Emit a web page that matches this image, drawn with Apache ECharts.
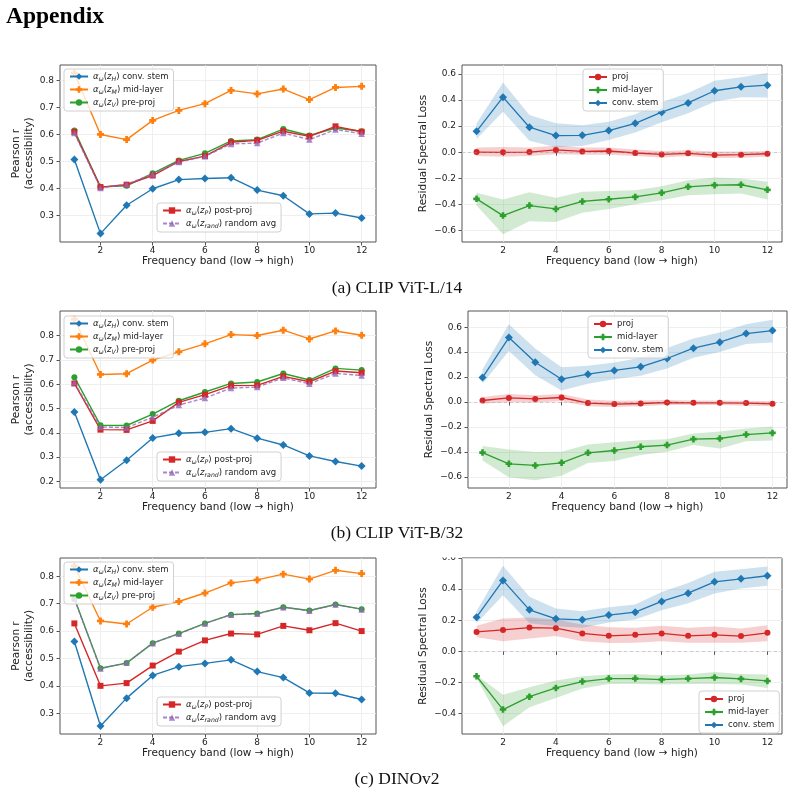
<!DOCTYPE html>
<html>
<head>
<meta charset="utf-8">
<script src="https://cdn.jsdelivr.net/npm/echarts@6/dist/echarts.min.js"></script>
<style>
  html, body { margin: 0; padding: 0; background: #fff; }
  #main { width: 794px; height: 795px; }
</style>
</head>
<body>
<div id="main"></div>
<script>
// frequency bands on the x axis
const bands = [1, 2, 3, 4, 5, 6, 7, 8, 9, 10, 11, 12];
const xTicks = [2, 4, 6, 8, 10, 12];

// (a) CLIP ViT-L/14 - accessibility (Pearson r)
const aStem = [0.507, 0.233, 0.338, 0.399, 0.433, 0.437, 0.440, 0.394, 0.373, 0.306, 0.309, 0.291];
const aMid  = [0.827, 0.600, 0.581, 0.652, 0.689, 0.714, 0.763, 0.750, 0.768, 0.729, 0.774, 0.778];
const aPre  = [0.615, 0.406, 0.410, 0.456, 0.504, 0.530, 0.576, 0.581, 0.620, 0.596, 0.624, 0.612];
const aPost = [0.609, 0.405, 0.414, 0.448, 0.500, 0.520, 0.571, 0.578, 0.612, 0.593, 0.630, 0.610];
const aRand = [0.605, 0.402, 0.416, 0.453, 0.498, 0.519, 0.565, 0.568, 0.605, 0.581, 0.618, 0.603];

// (a) residual spectral loss (mean, lower, upper)
const aResStem   = [0.160, 0.421, 0.191, 0.127, 0.129, 0.165, 0.221, 0.306, 0.377, 0.470, 0.500, 0.513];
const aResStemLo = [0.100, 0.310, 0.088, 0.037, 0.047, 0.093, 0.150, 0.229, 0.298, 0.385, 0.421, 0.418];
const aResStemHi = [0.220, 0.533, 0.285, 0.221, 0.206, 0.232, 0.290, 0.383, 0.452, 0.546, 0.574, 0.605];
const aResProj   = [0.001, -0.001, 0.001, 0.017, 0.006, 0.009, -0.006, -0.017, -0.009, -0.022, -0.019, -0.012];
const aResProjLo = [-0.030, -0.035, -0.030, -0.015, -0.020, -0.020, -0.030, -0.040, -0.030, -0.045, -0.042, -0.035];
const aResProjHi = [0.035, 0.040, 0.035, 0.050, 0.035, 0.035, 0.020, 0.010, 0.015, 0.005, 0.005, 0.010];
const aResMid    = [-0.357, -0.485, -0.408, -0.434, -0.377, -0.360, -0.342, -0.311, -0.265, -0.252, -0.249, -0.288];
const aResMidLo  = [-0.408, -0.628, -0.528, -0.534, -0.464, -0.434, -0.398, -0.367, -0.329, -0.321, -0.316, -0.362];
const aResMidHi  = [-0.311, -0.362, -0.306, -0.349, -0.303, -0.296, -0.291, -0.260, -0.214, -0.193, -0.201, -0.227];

// (b) CLIP ViT-B/32
const bStem = [0.486, 0.207, 0.287, 0.379, 0.398, 0.402, 0.417, 0.378, 0.350, 0.305, 0.282, 0.263];
const bMid  = [0.867, 0.640, 0.643, 0.699, 0.733, 0.766, 0.804, 0.800, 0.822, 0.786, 0.819, 0.801];
const bPre  = [0.629, 0.431, 0.430, 0.477, 0.532, 0.568, 0.603, 0.609, 0.644, 0.617, 0.665, 0.658];
const bPost = [0.603, 0.413, 0.412, 0.449, 0.525, 0.557, 0.594, 0.595, 0.632, 0.610, 0.654, 0.647];
const bRand = [0.607, 0.424, 0.421, 0.464, 0.514, 0.543, 0.584, 0.588, 0.626, 0.602, 0.644, 0.636];

const bResStem   = [0.196, 0.517, 0.319, 0.183, 0.223, 0.253, 0.282, 0.349, 0.432, 0.480, 0.549, 0.573];
const bResStemLo = [0.146, 0.410, 0.215, 0.092, 0.146, 0.183, 0.210, 0.269, 0.354, 0.402, 0.466, 0.477];
const bResStemHi = [0.263, 0.624, 0.429, 0.279, 0.290, 0.317, 0.354, 0.434, 0.509, 0.557, 0.624, 0.659];
const bResProj   = [0.012, 0.033, 0.025, 0.036, -0.009, -0.017, -0.012, -0.004, -0.007, -0.007, -0.009, -0.015];
const bResProjLo = [-0.015, 0.000, -0.005, 0.005, -0.035, -0.040, -0.035, -0.025, -0.025, -0.025, -0.030, -0.035];
const bResProjHi = [0.040, 0.065, 0.055, 0.065, 0.020, 0.010, 0.012, 0.015, 0.012, 0.012, 0.010, 0.005];
const bResMid    = [-0.406, -0.496, -0.509, -0.488, -0.408, -0.389, -0.359, -0.346, -0.298, -0.293, -0.261, -0.248];
const bResMidLo  = [-0.469, -0.603, -0.627, -0.592, -0.490, -0.474, -0.426, -0.400, -0.346, -0.373, -0.314, -0.309];
const bResMidHi  = [-0.354, -0.381, -0.402, -0.400, -0.341, -0.322, -0.306, -0.298, -0.253, -0.237, -0.213, -0.197];

// (c) DINOv2
const cStem = [0.562, 0.253, 0.355, 0.438, 0.470, 0.482, 0.495, 0.452, 0.430, 0.374, 0.373, 0.350];
const cMid  = [0.838, 0.637, 0.626, 0.687, 0.708, 0.739, 0.776, 0.787, 0.808, 0.790, 0.822, 0.810];
const cPre  = [0.719, 0.464, 0.483, 0.556, 0.591, 0.628, 0.660, 0.664, 0.687, 0.675, 0.697, 0.680];
const cPost = [0.628, 0.400, 0.410, 0.474, 0.525, 0.566, 0.591, 0.588, 0.619, 0.603, 0.629, 0.600];
const cRand = [0.718, 0.463, 0.484, 0.556, 0.590, 0.628, 0.660, 0.663, 0.687, 0.674, 0.697, 0.679];

const cResStem   = [0.220, 0.456, 0.267, 0.209, 0.203, 0.233, 0.252, 0.321, 0.374, 0.447, 0.466, 0.486];
const cResStemLo = [0.181, 0.361, 0.181, 0.162, 0.151, 0.186, 0.205, 0.265, 0.310, 0.372, 0.404, 0.421];
const cResStemHi = [0.258, 0.550, 0.351, 0.276, 0.258, 0.284, 0.301, 0.381, 0.440, 0.511, 0.527, 0.546];
const cResProj   = [0.125, 0.138, 0.153, 0.149, 0.115, 0.100, 0.106, 0.115, 0.100, 0.106, 0.098, 0.119];
const cResProjLo = [0.091, 0.065, 0.083, 0.098, 0.065, 0.053, 0.055, 0.065, 0.055, 0.055, 0.055, 0.065];
const cResProjHi = [0.164, 0.211, 0.218, 0.205, 0.173, 0.155, 0.151, 0.164, 0.151, 0.160, 0.147, 0.168];
const cResMid    = [-0.160, -0.374, -0.291, -0.235, -0.194, -0.175, -0.175, -0.181, -0.175, -0.168, -0.177, -0.190];
const cResMidLo  = [-0.171, -0.482, -0.359, -0.299, -0.239, -0.209, -0.209, -0.213, -0.209, -0.209, -0.213, -0.235];
const cResMidHi  = [-0.153, -0.278, -0.231, -0.188, -0.160, -0.149, -0.145, -0.153, -0.149, -0.132, -0.145, -0.149];

// y tick labels
const accTicksA = [0.3, 0.4, 0.5, 0.6, 0.7, 0.8];
const accTicksB = [0.2, 0.3, 0.4, 0.5, 0.6, 0.7, 0.8];
const accTicksC = [0.3, 0.4, 0.5, 0.6, 0.7, 0.8];
const resTicksAB = [-0.6, -0.4, -0.2, 0, 0.2, 0.4, 0.6];
const resTicksC = [-0.4, -0.2, 0, 0.2, 0.4, 0.6];

// legend names
const N_STEM = 'α_ω(z_H) conv. stem';
const N_MID = 'α_ω(z_M) mid-layer';
const N_PRE = 'α_ω(z_V) pre-proj';
const N_POST = 'α_ω(z_P) post-proj';
const N_RAND = 'α_ω(z_rand) random avg';

const COL = { blue: '#1f77b4', orange: '#ff7f0e', green: '#2ca02c', red: '#d62728', purple: '#9467bd' };
const PLUS = 'path://M3,0H7V3H10V7H7V10H3V7H0V3H3Z';
const FONT = 'DejaVu Sans';

// subplot boxes: [left, top, width, height]
const boxes = [
  [60, 65, 316, 177], [462, 65, 320, 177],
  [60, 311, 316, 177], [468, 311, 319, 177],
  [60, 558, 316, 176], [462, 558, 320, 176]
];
const yRanges = [
  [0.202, 0.857], [-0.687, 0.667],
  [0.173, 0.901], [-0.690, 0.730],
  [0.224, 0.867], [-0.531, 0.6]
];
const yTicks = [accTicksA, resTicksAB, accTicksB, resTicksAB, accTicksC, resTicksC];

function pts(vals) {
  return bands.map((b, i) => [b, vals[i]]);
}

function fmtNum(v) {
  const s = Math.abs(v).toFixed(1);
  return v < -1e-9 ? '\u2212' + s : s;
}

function line(name, gi, vals, color, symbol, size, extra) {
  return Object.assign({
    name: name, type: 'line', xAxisIndex: gi, yAxisIndex: gi,
    data: pts(vals), symbol: symbol, symbolSize: size,
    lineStyle: { color: color, width: 1.4 },
    itemStyle: { color: color },
    emphasis: { disabled: true }, z: 3
  }, extra || {});
}

function band(gi, lo, hi, color) {
  return {
    type: 'custom', xAxisIndex: gi, yAxisIndex: gi, silent: true, z: 1,
    data: bands.map((b, i) => [b, lo[i], hi[i]]),
    encode: { x: 0, y: [1, 2] },
    renderItem: function (params, api) {
      if (params.dataIndex !== 0) return null;
      const upper = bands.map((b, i) => api.coord([b, hi[i]]));
      const lower = bands.map((b, i) => api.coord([b, lo[i]])).reverse();
      return {
        type: 'polygon',
        shape: { points: upper.concat(lower) },
        style: { fill: color, opacity: 0.22 }
      };
    }
  };
}

function accSeries(gi, stem, mid, pre, post, rand) {
  return [
    line(N_STEM, gi, stem, COL.blue, 'diamond', 8),
    line(N_MID, gi, mid, COL.orange, PLUS, 7),
    line(N_PRE, gi, pre, COL.green, 'circle', 6),
    line(N_POST, gi, post, COL.red, 'rect', 6),
    line(N_RAND, gi, rand, COL.purple, 'triangle', 6.5, {
      lineStyle: { color: COL.purple, width: 1.4, type: [4, 2], opacity: 0.8 },
      itemStyle: { color: COL.purple, opacity: 0.8 }
    })
  ];
}

function resSeries(gi, proj, projLo, projHi, mid, midLo, midHi, stem, stemLo, stemHi) {
  const lw = { width: 1.3 };
  return [
    band(gi, projLo, projHi, COL.red),
    band(gi, midLo, midHi, COL.green),
    band(gi, stemLo, stemHi, COL.blue),
    line('proj', gi, proj, COL.red, 'circle', 6, {
      lineStyle: Object.assign({ color: COL.red }, lw),
      markLine: {
        silent: true, symbol: 'none', label: { show: false },
        lineStyle: { color: '#999', type: [3, 3], width: 0.8, opacity: 0.5 },
        data: [{ yAxis: 0 }]
      }
    }),
    line('mid-layer', gi, mid, COL.green, PLUS, 6.5, { lineStyle: Object.assign({ color: COL.green }, lw) }),
    line('conv. stem', gi, stem, COL.blue, 'diamond', 8, { lineStyle: Object.assign({ color: COL.blue }, lw) })
  ];
}

const richLegend = {
  tx: { fontFamily: FONT, fontSize: 8.5, color: '#222', lineHeight: 11 },
  it: { fontFamily: FONT, fontSize: 8.5, color: '#222', lineHeight: 11, fontStyle: 'italic' },
  sb: { fontFamily: FONT, fontSize: 6.2, color: '#222', lineHeight: 6, fontStyle: 'italic', verticalAlign: 'bottom' }
};

function mathName(name) {
  const m = /^α_ω\(z_(\w+)\) (.*)$/.exec(name);
  if (!m) return name;
  return '{it|α}{sb|ω}{tx|(}{it|z}{sb|' + m[1] + '}{tx|) ' + m[2] + '}';
}

function legend(data, left, top, math) {
  return {
    data: data, left: left, top: top, orient: 'vertical',
    itemWidth: 18, itemHeight: 8, itemGap: 3,
    padding: [3, 5, 3, 5],
    backgroundColor: 'rgba(255,255,255,0.8)',
    borderColor: '#d0d0d0', borderWidth: 1, borderRadius: 3,
    selectedMode: false,
    formatter: math ? mathName : undefined,
    textStyle: math ? { rich: richLegend } : { fontFamily: FONT, fontSize: 8.5, color: '#222', lineHeight: 10 }
  };
}

const grids = boxes.map(b => ({
  left: b[0], top: b[1], width: b[2], height: b[3],
  show: true, borderColor: '#555', borderWidth: 1, backgroundColor: 'transparent',
  containLabel: false, outerBoundsMode: 'none'
}));

const xAxes = boxes.map((b, gi) => ({
  type: 'value', gridIndex: gi, min: 0.45, max: 12.55,
  name: 'Frequency band (low \u2192 high)', nameLocation: 'middle', nameGap: 14,
  nameTextStyle: { fontFamily: FONT, fontSize: 10.5, color: '#222' },
  axisLine: { show: false },
  axisTick: { show: true, length: 3.5, lineStyle: { color: '#555' }, customValues: xTicks },
  axisLabel: { fontFamily: FONT, fontSize: 9, color: '#222', margin: 4, customValues: xTicks, formatter: v => String(v) },
  splitLine: { show: true, lineStyle: { color: '#ebebeb', width: 0.8 } }
}));

const yAxes = boxes.map((b, gi) => {
  const acc = gi % 2 === 0;
  return {
    type: 'value', gridIndex: gi, min: yRanges[gi][0], max: yRanges[gi][1],
    name: acc ? 'Pearson r\n(accessibility)' : 'Residual Spectral Loss',
    nameLocation: 'middle', nameGap: acc ? 22 : 30,
    nameTextStyle: { fontFamily: FONT, fontSize: 10.5, color: '#222', lineHeight: 13 },
    axisLine: { show: false },
    axisTick: { show: true, length: 3.5, lineStyle: { color: '#555' }, customValues: yTicks[gi] },
    axisLabel: { fontFamily: FONT, fontSize: 9, color: '#222', margin: 6, customValues: yTicks[gi], formatter: fmtNum },
    splitLine: { show: true, lineStyle: { color: '#ebebeb', width: 0.8 } }
  };
});

const series = [].concat(
  accSeries(0, aStem, aMid, aPre, aPost, aRand),
  resSeries(1, aResProj, aResProjLo, aResProjHi, aResMid, aResMidLo, aResMidHi, aResStem, aResStemLo, aResStemHi),
  accSeries(2, bStem, bMid, bPre, bPost, bRand),
  resSeries(3, bResProj, bResProjLo, bResProjHi, bResMid, bResMidLo, bResMidHi, bResStem, bResStemLo, bResStemHi),
  accSeries(4, cStem, cMid, cPre, cPost, cRand),
  resSeries(5, cResProj, cResProjLo, cResProjHi, cResMid, cResMidLo, cResMidHi, cResStem, cResStemLo, cResStemHi)
);

const upperNames = [N_STEM, N_MID, N_PRE];
const lowerNames = [N_POST, N_RAND];
const resNames = ['proj', 'mid-layer', 'conv. stem'];

const legends = [
  legend(upperNames, 64, 69, true), legend(lowerNames, 157, 203, true),
  legend(resNames, 583, 69, false),
  legend(upperNames, 64, 316, true), legend(lowerNames, 157, 452, true),
  legend(resNames, 588, 316, false),
  legend(upperNames, 64, 562, true), legend(lowerNames, 157, 697, true),
  legend(resNames, 699, 691, false)
];

function caption(text, y) {
  return {
    type: 'text', left: 'center', top: y - 10,
    style: { text: text, font: '17.5px "Liberation Serif"', fill: '#111' }
  };
}

const chart = echarts.init(document.getElementById('main'), null, { renderer: 'canvas' });
chart.setOption({
  animation: false,
  backgroundColor: '#fff',
  grid: grids,
  xAxis: xAxes,
  yAxis: yAxes,
  legend: legends,
  series: series,
  graphic: [
    { type: 'text', left: 6, top: 5, style: { text: 'Appendix', font: 'bold 23.5px "Liberation Serif"', fill: '#000' } },
    caption('(a) CLIP ViT-L/14', 289),
    caption('(b) CLIP ViT-B/32', 534),
    caption('(c) DINOv2', 780),
    // the top of the last panel is cut off in the source figure
    { type: 'rect', shape: { x: 420, y: 546, width: 41, height: 11.5 }, style: { fill: '#fff' }, z: 100 }
  ]
});
</script>
</body>
</html>
